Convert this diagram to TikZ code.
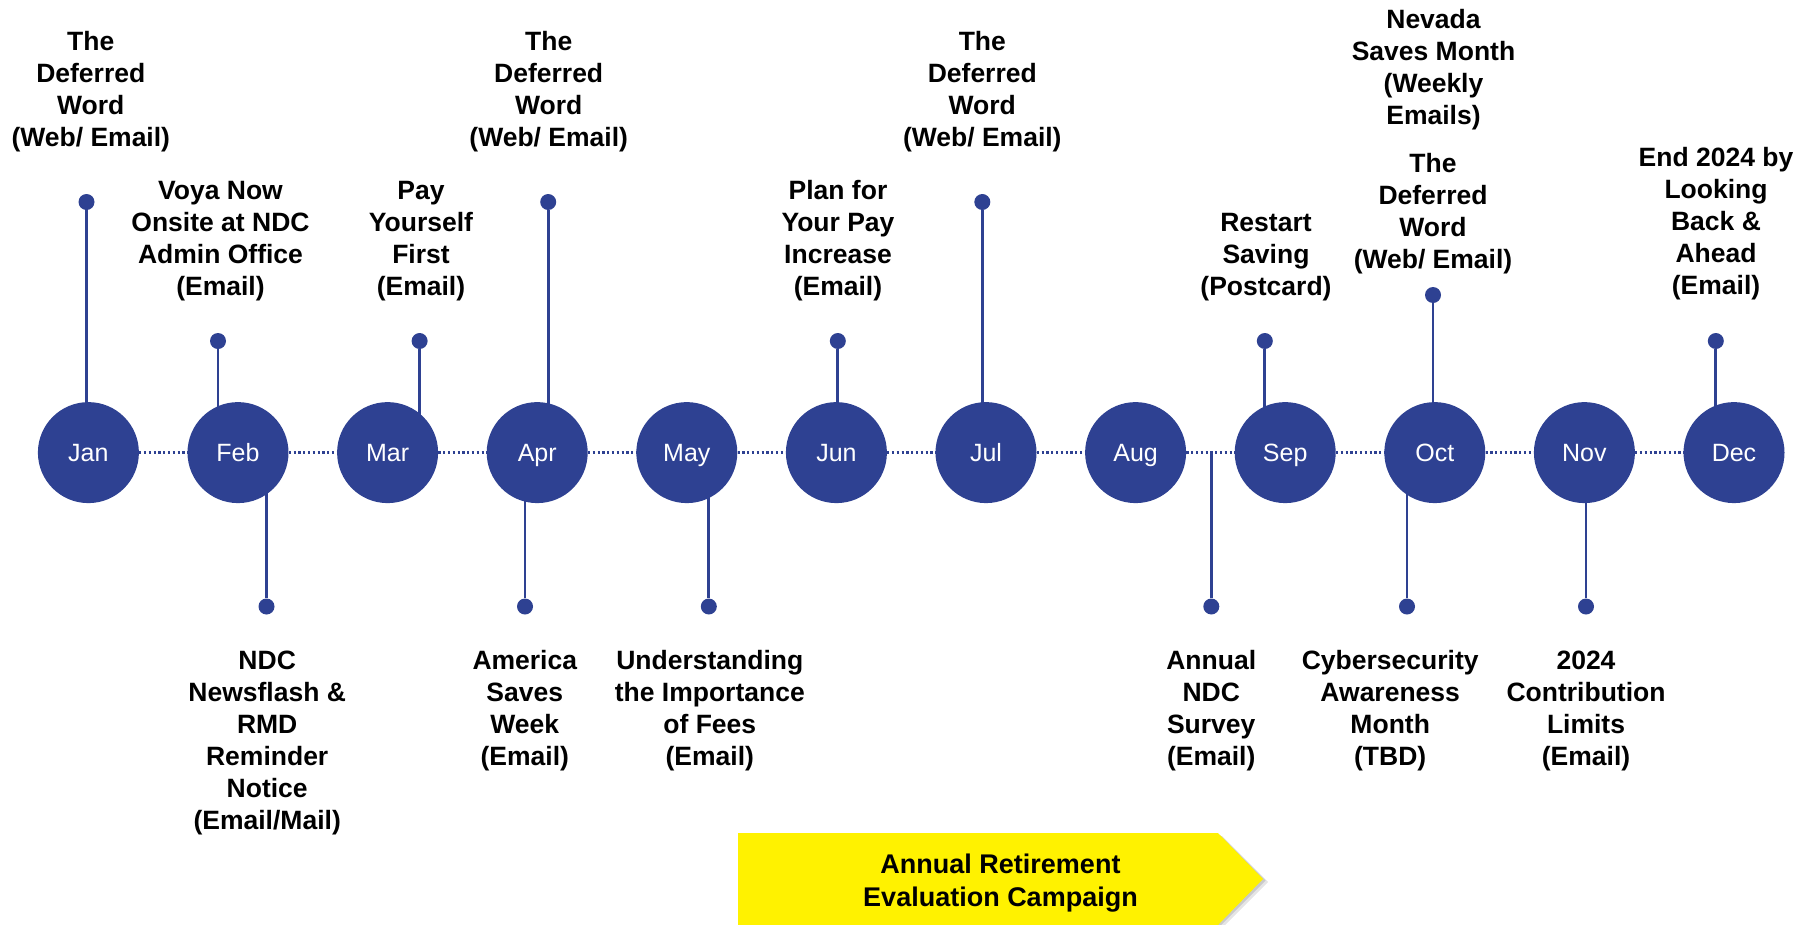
\documentclass[tikz,border=0pt]{standalone}
\usepackage{fontspec}
\setmainfont{Liberation Sans}
\usetikzlibrary{backgrounds}
\definecolor{navy}{HTML}{2E4192}
\definecolor{campaignyellow}{HTML}{FFF200}
% multi-line label whose baseline is the first line
\newcommand{\evlines}[1]{\begin{tabular}[t]{@{}c@{}}#1\end{tabular}}
\tikzset{
  month/.style={circle, fill=navy, minimum size=101pt, inner sep=0pt,
    text=white, font=\fontsize{25}{28}\selectfont,
    text height=17.9pt, text depth=0pt},
  dotline/.style={navy, line width=2.6pt, dash pattern=on 2.2pt off 2.6pt},
  stem/.style={navy, line width=2.8pt},
  pin/.style={circle, fill=navy, minimum width=15pt, minimum height=16pt, inner sep=0pt},
  event/.style={anchor=base, inner sep=0pt, font=\bfseries\fontsize{26.5}{32}\selectfont},
  campaigntext/.style={anchor=base, inner sep=0pt, font=\bfseries\fontsize{27}{33}\selectfont},
}
\begin{document}
\begin{tikzpicture}[x=1pt, y=-1pt]
\useasboundingbox (0,0) rectangle (1812,924);

% month circles
\node[month] (jan) at (88.4,452.6)   {Jan};
\node[month] (feb) at (238.0,452.6)  {Feb};
\node[month] (mar) at (387.6,452.6)  {Mar};
\node[month] (apr) at (537.2,452.6)  {Apr};
\node[month] (may) at (686.8,452.6)  {May};
\node[month] (jun) at (836.4,452.6)  {Jun};
\node[month] (jul) at (986.0,452.6)  {Jul};
\node[month] (aug) at (1135.6,452.6) {Aug};
\node[month] (sep) at (1285.2,452.6) {Sep};
\node[month] (oct) at (1434.8,452.6) {Oct};
\node[month] (nov) at (1584.4,452.6) {Nov};
\node[month] (dec) at (1734.0,452.6) {Dec};

% pins above the timeline
\node[pin] (pjan)  at (86.5,202)   {};
\node[pin] (pfeb)  at (218,341)    {};
\node[pin] (pmar)  at (419.6,341)  {};
\node[pin] (papr)  at (548.2,202)  {};
\node[pin] (pjun)  at (837.8,341)  {};
\node[pin] (pjul)  at (982.3,202)  {};
\node[pin] (psep)  at (1264.8,341) {};
\node[pin] (poct)  at (1433,295)   {};
\node[pin] (pdec)  at (1715.8,341) {};
% pins below the timeline
\node[pin] (qfeb)  at (266.5,606.5)  {};
\node[pin] (qapr)  at (525,606.5)    {};
\node[pin] (qmay)  at (708.8,606.5)  {};
\node[pin] (qaug)  at (1211.3,606.5) {};
\node[pin] (qoct)  at (1407,606.5)   {};
\node[pin] (qnov)  at (1586,606.5)   {};

\begin{pgfonlayer}{background}
  % dotted timeline
  \draw[dotline] (jan) -- (feb);
  \draw[dotline] (feb) -- (mar);
  \draw[dotline] (mar) -- (apr);
  \draw[dotline] (apr) -- (may);
  \draw[dotline] (may) -- (jun);
  \draw[dotline] (jun) -- (jul);
  \draw[dotline] (jul) -- (aug);
  \draw[dotline] (aug) -- (sep);
  \draw[dotline] (sep) -- (oct);
  \draw[dotline] (oct) -- (nov);
  \draw[dotline] (nov) -- (dec);
  % stems
  \draw[stem] (pjan) -- (pjan |- jan.center);
  \draw[stem] (pfeb) -- (pfeb |- feb.center);
  \draw[stem] (pmar) -- (pmar |- mar.center);
  \draw[stem] (papr) -- (papr |- apr.center);
  \draw[stem] (pjun) -- (pjun |- jun.center);
  \draw[stem] (pjul) -- (pjul |- jul.center);
  \draw[stem] (psep) -- (psep |- sep.center);
  \draw[stem] (poct) -- (poct |- oct.center);
  \draw[stem] (pdec) -- (pdec |- dec.center);
  \draw[stem] (qfeb) -- (qfeb |- feb.center);
  \draw[stem] (qapr) -- (qapr |- apr.center);
  \draw[stem] (qmay) -- (qmay |- may.center);
  \draw[stem] (qaug) -- (qaug |- aug.center);
  \draw[stem] (qoct) -- (qoct |- oct.center);
  \draw[stem] (qnov) -- (qnov |- nov.center);
\end{pgfonlayer}

% event labels above
\node[event] (tjan) at (90.8,50.7)  {\evlines{The\\Deferred\\Word\\(Web/ Email)}};
\node[event] (tfeb) at (220.5,199.3) {\evlines{Voya Now\\Onsite at NDC\\Admin Office\\(Email)}};
\node[event] (tmar) at (421,199.3)  {\evlines{Pay\\Yourself\\First\\(Email)}};
\node[event] (tapr) at (548.7,50.7) {\evlines{The\\Deferred\\Word\\(Web/ Email)}};
\node[event] (tjun) at (838,199.3)  {\evlines{Plan for\\Your Pay\\Increase\\(Email)}};
\node[event] (tjul) at (982.3,50.7) {\evlines{The\\Deferred\\Word\\(Web/ Email)}};
\node[event] (tsep) at (1266,231)   {\evlines{Restart\\Saving\\(Postcard)}};
\node[event] (tnev) at (1433.5,28.5) {\evlines{Nevada\\Saves Month\\(Weekly\\Emails)}};
\node[event] (toct) at (1433,172)   {\evlines{The\\Deferred\\Word\\(Web/ Email)}};
\node[event] (tdec) at (1716,166.7) {\evlines{End 2024 by\\Looking\\Back \&\\Ahead\\(Email)}};

% event labels below
\node[event] (bfeb) at (267.2,669.8) {\evlines{NDC\\Newsflash \&\\RMD\\Reminder\\Notice\\(Email/Mail)}};
\node[event] (bapr) at (524.8,669.8) {\evlines{America\\Saves\\Week\\(Email)}};
\node[event] (bmay) at (709.8,669.8) {\evlines{Understanding\\the Importance\\of Fees\\(Email)}};
\node[event] (baug) at (1211.2,669.8) {\evlines{Annual\\NDC\\Survey\\(Email)}};
\node[event] (boct) at (1390.2,669.8) {\evlines{Cybersecurity\\Awareness\\Month\\(TBD)}};
\node[event] (bnov) at (1586,669.8)  {\evlines{2024\\Contribution\\Limits\\(Email)}};

% campaign banner with a soft shadow
\fill[black, opacity=0.10] (741,836) -- (1222,836) -- (1268,882) -- (1222,928) -- (741,928) -- cycle;
\fill[black, opacity=0.12] (740,835) -- (1220,835) -- (1265.5,880.5) -- (1220,926) -- (740,926) -- cycle;
\fill[campaignyellow] (738,833) -- (1218,833) -- (1263,879) -- (1218,925) -- (738,925) -- cycle;
\node[campaigntext] (campaign) at (1000.5,873) {\evlines{Annual Retirement\\Evaluation Campaign}};
\end{tikzpicture}
\end{document}
